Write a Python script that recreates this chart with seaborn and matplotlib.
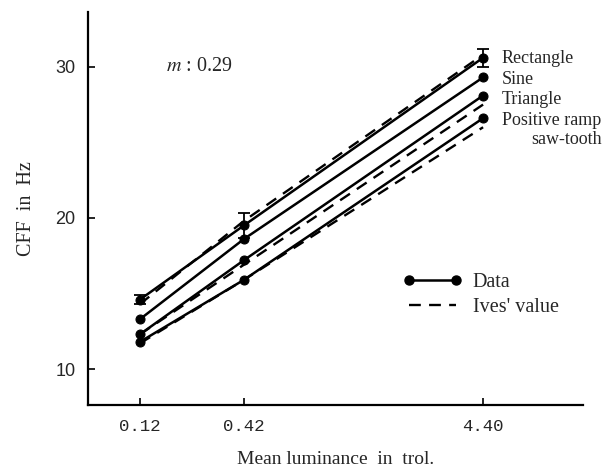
import numpy as np
import pandas as pd
import matplotlib
matplotlib.use("Agg")
import matplotlib.pyplot as plt
import seaborn as sns
from matplotlib.lines import Line2D

# --- Data ---
luminance = [0.12, 0.42, 4.40]
tick_labels = ["0.12", "0.42", "4.40"]

data_rectangle = [14.6, 19.5, 30.6]
data_sine = [13.3, 18.6, 29.3]
data_triangle = [12.3, 17.2, 28.1]
data_ramp = [11.8, 15.9, 26.6]
rect_err = [0.3, 0.8, 0.6]

ives_rectangle = [14.3, 19.8, 30.8]
ives_triangle = [12.3, 16.9, 27.5]
ives_ramp = [11.7, 15.9, 26.0]

wave_labels = ["Rectangle", "Sine", "Triangle", "Positive ramp", "saw-tooth"]

sns.set_style("ticks")
plt.rcParams["mathtext.fontset"] = "stix"
serif = ["Liberation Serif", "DejaVu Serif"]

fig = plt.figure(figsize=(6.03, 4.72), dpi=100)
ax = fig.add_axes([0.146, 0.142, 0.821, 0.833])

# --- Data lines (solid with dots) ---
for ys in [data_rectangle, data_sine, data_triangle, data_ramp]:
    sns.lineplot(x=luminance, y=ys, ax=ax, color="black", lw=1.8,
                 marker="o", markersize=6.5, markeredgecolor="black")

ax.errorbar(luminance, data_rectangle, yerr=rect_err, fmt="none",
            ecolor="black", elinewidth=1.3, capsize=4, capthick=1.3)

# --- Ives' values (dashed) ---
for ys in [ives_rectangle, ives_triangle, ives_ramp]:
    sns.lineplot(x=luminance, y=ys, ax=ax, color="black", lw=1.7,
                 linestyle=(0, (5, 3.5)))

# compressed log axis, as in the original figure
c = 0.065
ax.set_xscale("function", functions=(lambda v: np.log10(np.clip(v + c, 1e-6, None)),
                                     lambda v: 10 ** v - c))
ax.set_xlim(0.0492, 11.23)
ax.set_ylim(7.62, 33.64)
ax.set_xticks(luminance)
ax.set_xticklabels(tick_labels, family=["Liberation Mono"], fontsize=12.5)
ax.minorticks_off()
ax.set_yticks([10, 20, 30])
ax.set_yticklabels(["10", "20", "30"], family=["Liberation Sans"], fontsize=13)
ax.tick_params(direction="in", length=5, width=1.2, color="black")
ax.tick_params(axis="x", pad=10)
ax.tick_params(axis="y", pad=9)

sns.despine(ax=ax)
for s in ["left", "bottom"]:
    ax.spines[s].set_linewidth(1.6)
    ax.spines[s].set_color("black")

ax.set_xlabel("Mean luminance  in  trol.", family=serif, fontsize=14, labelpad=12)
ax.set_ylabel("CFF  in  Hz", family=serif, fontsize=14.5, labelpad=14)

# --- Annotations ---
ax.text(0.158, 0.860, "$m$ : 0.29", transform=ax.transAxes, family=serif,
        fontsize=14.5, va="center")
label_pos = [(0.836, 0.880), (0.836, 0.827), (0.836, 0.776), (0.836, 0.723), (0.895, 0.674)]
for lab, (lx, ly) in zip(wave_labels, label_pos):
    ax.text(lx, ly, lab, transform=ax.transAxes, family=serif, fontsize=13, va="center")

# --- Legend ---
handles = [
    Line2D([], [], color="black", lw=1.8, marker="o", markersize=6.5),
    Line2D([], [], color="black", lw=1.7, linestyle=(0, (5, 3.5))),
]
ax.legend(handles, ["Data", "Ives' value"], numpoints=2, frameon=False,
          loc="upper left", bbox_to_anchor=(0.60, 0.383), handlelength=2.9,
          handletextpad=0.55, labelspacing=0.3, prop={"family": serif, "size": 14.5})

fig.savefig("out.png", dpi=100)
